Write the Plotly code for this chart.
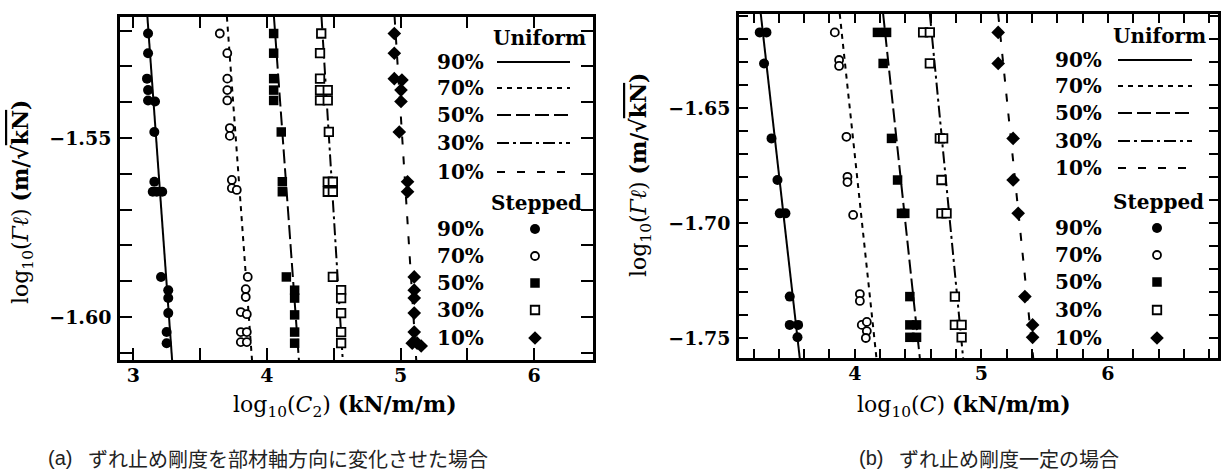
import plotly.graph_objects as go

W, H = 1223, 474

# ---------------- panel (a): C2 varied along the member ----------------
A_XRANGE = [2.90, 6.44]
A_YRANGE = [-1.612, -1.5161]

# uniform connectors: straight lines given by their x at the top / bottom of the frame
A_UNI_Y = [-1.5161, -1.612]
A_UNI_90 = [3.105, 3.290]
A_UNI_70 = [3.700, 3.888]
A_UNI_50 = [4.052, 4.239]
A_UNI_30 = [4.408, 4.567]
A_UNI_10 = [4.955, 5.117]

# stepped connectors
A_S90_X = [3.110, 3.110, 3.102, 3.110, 3.110, 3.162, 3.157, 3.157, 3.145, 3.175, 3.216,
           3.207, 3.261, 3.261, 3.261, 3.249, 3.249]
A_S90_Y = [-1.5208, -1.5263, -1.5334, -1.5366, -1.5395, -1.5398, -1.5483, -1.5622, -1.5650,
           -1.5650, -1.5650, -1.5888, -1.5925, -1.5947, -1.5989, -1.6042, -1.6073]
A_S70_X = [3.647, 3.703, 3.703, 3.703, 3.703, 3.722, 3.722, 3.737, 3.737, 3.774, 3.856,
           3.841, 3.841, 3.804, 3.849, 3.804, 3.804, 3.849, 3.849]
A_S70_Y = [-1.5208, -1.5263, -1.5334, -1.5366, -1.5395, -1.5472, -1.5494, -1.5617, -1.5640,
           -1.5645, -1.5888, -1.5922, -1.5944, -1.5986, -1.5992, -1.6042, -1.6070, -1.6042, -1.6070]
A_S50_X = [4.050, 4.050, 4.050, 4.050, 4.050, 4.107, 4.115, 4.115, 4.145, 4.207, 4.207,
           4.207, 4.207, 4.207]
A_S50_Y = [-1.5208, -1.5263, -1.5334, -1.5366, -1.5395, -1.5483, -1.5622, -1.5650, -1.5888,
           -1.5925, -1.5947, -1.5994, -1.6042, -1.6073]
A_S30_X = [4.406, 4.397, 4.397, 4.397, 4.455, 4.397, 4.455, 4.463, 4.455, 4.493, 4.455,
           4.493, 4.493, 4.555, 4.555, 4.555, 4.555, 4.555]
A_S30_Y = [-1.5208, -1.5263, -1.5334, -1.5366, -1.5366, -1.5395, -1.5395, -1.5483, -1.5622,
           -1.5622, -1.5650, -1.5650, -1.5888, -1.5925, -1.5947, -1.5989, -1.6042, -1.6073]
A_S10_X = [4.953, 4.953, 4.953, 5.010, 5.003, 5.003, 4.990, 5.052, 5.052, 5.102, 5.102,
           5.102, 5.102, 5.102, 5.087, 5.124, 5.154]
A_S10_Y = [-1.5208, -1.5263, -1.5334, -1.5338, -1.5366, -1.5398, -1.5483, -1.5622, -1.5650,
           -1.5888, -1.5925, -1.5947, -1.5989, -1.6042, -1.6073, -1.6073, -1.6081]

# ---------------- panel (b): constant C ----------------
B_XRANGE = [3.085, 6.87]
B_YRANGE = [-1.7587, -1.6091]

B_UNI_Y = [-1.6091, -1.7587]
B_UNI_90 = [3.257, 3.565]
B_UNI_70 = [3.881, 4.171]
B_UNI_50 = [4.224, 4.514]
B_UNI_30 = [4.593, 4.856]
B_UNI_10 = [5.133, 5.410]

B_S90_X = [3.249, 3.302, 3.283, 3.342, 3.389, 3.407, 3.452, 3.486, 3.486, 3.552, 3.547]
B_S90_Y = [-1.6171, -1.6171, -1.6306, -1.6632, -1.6813, -1.6958, -1.6958, -1.7320, -1.7443,
           -1.7443, -1.7497]
B_S70_X = [3.842, 3.876, 3.876, 3.934, 3.942, 3.942, 3.987, 4.040, 4.040, 4.055, 4.095,
           4.095, 4.087]
B_S70_Y = [-1.6171, -1.6291, -1.6317, -1.6625, -1.6799, -1.6822, -1.6965, -1.7309, -1.7339,
           -1.7443, -1.7430, -1.7470, -1.7500]
B_S50_X = [4.179, 4.251, 4.224, 4.290, 4.338, 4.369, 4.395, 4.435, 4.435, 4.488, 4.435, 4.488]
B_S50_Y = [-1.6171, -1.6171, -1.6306, -1.6632, -1.6813, -1.6958, -1.6958, -1.7320, -1.7443,
           -1.7443, -1.7497, -1.7497]
B_S30_X = [4.540, 4.593, 4.593, 4.672, 4.698, 4.685, 4.685, 4.725, 4.791, 4.791, 4.844, 4.844]
B_S30_Y = [-1.6171, -1.6171, -1.6306, -1.6632, -1.6632, -1.6813, -1.6958, -1.6958, -1.7320,
           -1.7443, -1.7443, -1.7497]
B_S10_X = [5.133, 5.133, 5.251, 5.251, 5.291, 5.344, 5.405, 5.405]
B_S10_Y = [-1.6171, -1.6306, -1.6632, -1.6813, -1.6958, -1.7320, -1.7443, -1.7497]

RATIOS = ["90%", "70%", "50%", "30%", "10%"]

# ---------------- styles ----------------
SERIF = "DejaVu Serif"
DASH = {"90%": "solid", "70%": "5px,5px", "50%": "14px,5px",
        "30%": "12px,4px,3px,4px", "10%": "8px,12px"}
MARK = {
    "90%": dict(symbol="circle", size=10, color="black"),
    "70%": dict(symbol="circle", size=8, color="white", line=dict(color="black", width=1.8)),
    "50%": dict(symbol="square", size=9.5, color="black"),
    "30%": dict(symbol="square", size=8.5, color="white", line=dict(color="black", width=1.8)),
    "10%": dict(symbol="diamond", size=10.5, color="black"),
}

# frame placement (pixels)
A_BOX = dict(left=120, right=593, top=16.7, bottom=360)
B_BOX = dict(left=739, right=1218, top=14, bottom=358)


def dom(box):
    return ([box["left"] / W, box["right"] / W],
            [(H - box["bottom"]) / H, (H - box["top"]) / H])


fig = go.Figure()

panels = [
    ("x", "y", A_UNI_Y, [A_UNI_90, A_UNI_70, A_UNI_50, A_UNI_30, A_UNI_10],
     [(A_S90_X, A_S90_Y), (A_S70_X, A_S70_Y), (A_S50_X, A_S50_Y), (A_S30_X, A_S30_Y),
      (A_S10_X, A_S10_Y)]),
    ("x2", "y2", B_UNI_Y, [B_UNI_90, B_UNI_70, B_UNI_50, B_UNI_30, B_UNI_10],
     [(B_S90_X, B_S90_Y), (B_S70_X, B_S70_Y), (B_S50_X, B_S50_Y), (B_S30_X, B_S30_Y),
      (B_S10_X, B_S10_Y)]),
]

for xa, ya, uy, unis, steps in panels:
    for r, ux in zip(RATIOS, unis):
        fig.add_trace(go.Scatter(x=ux, y=uy, mode="lines", xaxis=xa, yaxis=ya,
                                 line=dict(color="black", width=2, dash=DASH[r]),
                                 showlegend=False, hoverinfo="skip"))
    for r, (sx, sy) in zip(RATIOS, steps):
        fig.add_trace(go.Scatter(x=sx, y=sy, mode="markers", xaxis=xa, yaxis=ya,
                                 marker=MARK[r], showlegend=False, hoverinfo="skip",
                                 cliponaxis=False))

# ---------------- hand-built legends on a pixel overlay ----------------
LEG_A = dict(head_r=588, uni_y=38, lab_r=486, rows_u=[62, 88, 115, 143, 172],
             line_x=[497, 570], step_r=584, step_y=203,
             rows_s=[229, 256, 283, 310, 338], mark_x=535)
LEG_B = dict(head_r=1208, uni_y=36, lab_r=1104, rows_u=[60, 86, 113, 141, 168],
             line_x=[1118, 1192], step_r=1206, step_y=202,
             rows_s=[228, 255, 282, 310, 338], mark_x=1157)

annotations = []
TXT = dict(family=SERIF, size=20, color="black", weight="bold")

for leg in (LEG_A, LEG_B):
    annotations.append(dict(x=leg["head_r"] / W, y=1 - leg["uni_y"] / H, xref="paper",
                            yref="paper", text="Uniform", showarrow=False,
                            xanchor="right", yanchor="middle", font=TXT))
    annotations.append(dict(x=leg["step_r"] / W, y=1 - leg["step_y"] / H, xref="paper",
                            yref="paper", text="Stepped", showarrow=False,
                            xanchor="right", yanchor="middle", font=TXT))
    for r, ry in zip(RATIOS, leg["rows_u"]):
        annotations.append(dict(x=leg["lab_r"] / W, y=1 - ry / H, xref="paper", yref="paper",
                                text=r, showarrow=False, xanchor="right",
                                yanchor="middle", font=TXT))
        fig.add_trace(go.Scatter(x=leg["line_x"], y=[ry, ry], mode="lines",
                                 xaxis="x3", yaxis="y3",
                                 line=dict(color="black", width=2, dash=DASH[r]),
                                 showlegend=False, hoverinfo="skip"))
    for r, ry in zip(RATIOS, leg["rows_s"]):
        annotations.append(dict(x=leg["lab_r"] / W, y=1 - ry / H, xref="paper", yref="paper",
                                text=r, showarrow=False, xanchor="right",
                                yanchor="middle", font=TXT))
        fig.add_trace(go.Scatter(x=[leg["mark_x"]], y=[ry], mode="markers",
                                 xaxis="x3", yaxis="y3", marker=MARK[r],
                                 showlegend=False, hoverinfo="skip"))

# ---------------- axis titles ----------------
TITLE = dict(family=SERIF, size=22, color="black")
ytitle = "log<sub>10</sub>(<i>Γℓ</i>) <b>(m/√<span style='text-decoration:overline'>kN</span>)</b>"
annotations += [
    dict(x=22 / W, y=1 - 202 / H, xref="paper", yref="paper", text=ytitle, textangle=-90,
         showarrow=False, xanchor="center", yanchor="middle", font=TITLE),
    dict(x=640 / W, y=1 - 175 / H, xref="paper", yref="paper", text=ytitle, textangle=-90,
         showarrow=False, xanchor="center", yanchor="middle", font=TITLE),
    dict(x=345 / W, y=1 - 406 / H, xref="paper", yref="paper",
         text="log<sub>10</sub>(<i>C</i><sub>2</sub>) <b>(kN/m/m)</b>",
         showarrow=False, xanchor="center", yanchor="middle", font=TITLE),
    dict(x=964 / W, y=1 - 406 / H, xref="paper", yref="paper",
         text="log<sub>10</sub>(<i>C</i>) <b>(kN/m/m)</b>",
         showarrow=False, xanchor="center", yanchor="middle", font=TITLE),
]

# ---------------- captions ----------------
CAP = dict(family="Liberation Sans, Noto Sans CJK JP", size=20, color="#222222")
CAP_JP = dict(family="Noto Sans CJK JP", size=20, color="#222222")
annotations += [
    dict(x=46 / W, y=1 - 458 / H, xref="paper", yref="paper", text="(a)", showarrow=False,
         xanchor="left", yanchor="middle", font=CAP),
    dict(x=86 / W, y=1 - 458 / H, xref="paper", yref="paper",
         text="ずれ止め剛度を部材軸方向に変化させた場合", showarrow=False,
         xanchor="left", yanchor="middle", font=CAP_JP),
    dict(x=857 / W, y=1 - 458 / H, xref="paper", yref="paper", text="(b)", showarrow=False,
         xanchor="left", yanchor="middle", font=CAP),
    dict(x=897 / W, y=1 - 458 / H, xref="paper", yref="paper",
         text="ずれ止め剛度一定の場合", showarrow=False,
         xanchor="left", yanchor="middle", font=CAP_JP),
]


# ---------------- axes ----------------
def ticks(lo, hi, step, labelled, fmt):
    n = int(round((hi - lo) / step))
    vals = [round(lo + i * step, 4) for i in range(n + 1)]
    text = [fmt(v) if any(abs(v - l) < 1e-6 for l in labelled) else "" for v in vals]
    return vals, text


def axis_style(rng, domain, anchor, vals, text, ticklen, standoff):
    return dict(range=rng, domain=domain, anchor=anchor, tickmode="array",
                tickvals=vals, ticktext=text, ticks="inside", ticklen=ticklen, tickwidth=2,
                tickcolor="black", showline=True, linewidth=2.5, linecolor="black",
                mirror="ticks", showgrid=False, zeroline=False, ticklabelstandoff=standoff,
                tickfont=dict(family=SERIF, size=19, color="black", weight="bold"))


def fmt_y(v):
    return "−%.2f" % abs(v)


def fmt_x(v):
    return "%d" % round(v)


ax_x_a = ticks(3.0, 6.0, 0.5, [3, 4, 5, 6], fmt_x)
ax_y_a = ticks(-1.61, -1.52, 0.01, [-1.60, -1.55], fmt_y)
ax_x_b = ticks(3.2, 6.8, 0.2, [4, 5, 6], fmt_x)
ax_y_b = ticks(-1.75, -1.61, 0.01, [-1.75, -1.70, -1.65], fmt_y)

dxa, dya = dom(A_BOX)
dxb, dyb = dom(B_BOX)

fig.update_layout(
    width=W, height=H, margin=dict(l=0, r=0, t=0, b=0),
    paper_bgcolor="white", plot_bgcolor="rgba(0,0,0,0)",
    showlegend=False,
    xaxis=axis_style(A_XRANGE, dxa, "y", *ax_x_a, 12, -4),
    yaxis=axis_style(A_YRANGE, dya, "x", *ax_y_a, 12, 2),
    xaxis2=axis_style(B_XRANGE, dxb, "y2", *ax_x_b, 9, -4),
    yaxis2=axis_style(B_YRANGE, dyb, "x2", *ax_y_b, 9, 2),
    xaxis3=dict(range=[0, W], domain=[0, 1], anchor="y3", visible=False, fixedrange=True),
    yaxis3=dict(range=[H, 0], domain=[0, 1], anchor="x3", visible=False, fixedrange=True),
    annotations=annotations,
)

fig.write_html("out.html", config={"displayModeBar": False})
